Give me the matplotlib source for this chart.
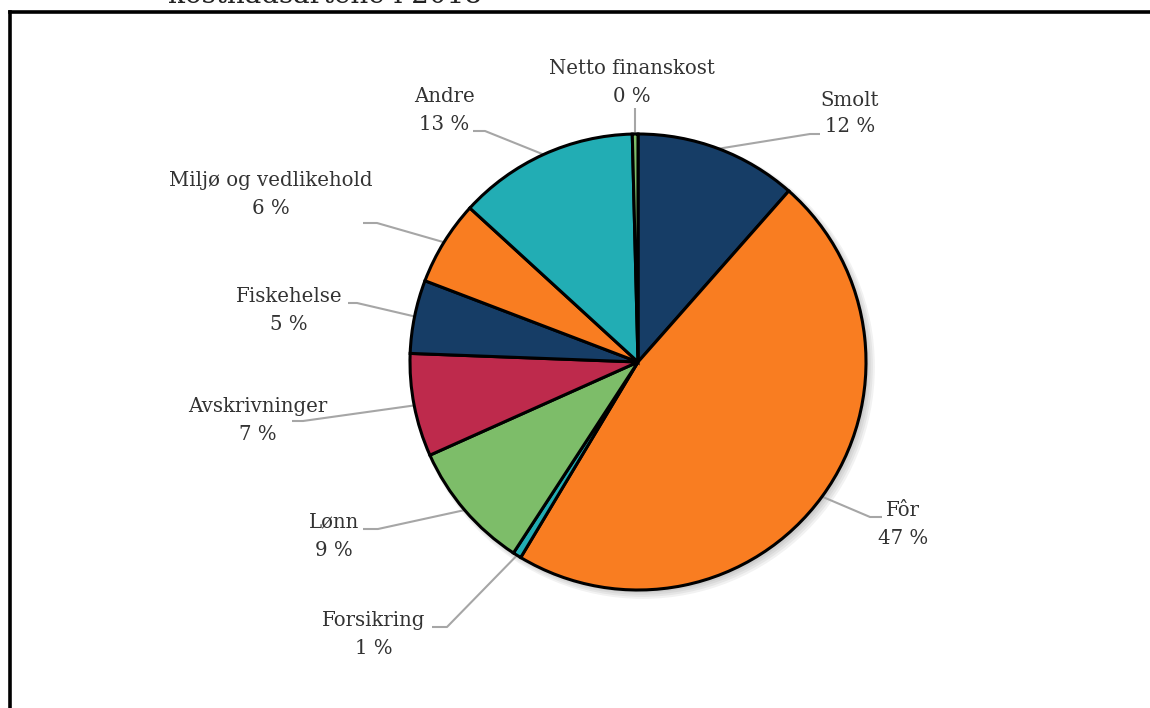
import numpy as np
import matplotlib
matplotlib.use("Agg")
import matplotlib.pyplot as plt
from matplotlib.lines import Line2D
from matplotlib.patches import Circle

# ---- data ----
categories = ["Smolt", "Fôr", "Forsikring", "Lønn", "Avskrivninger",
              "Fiskehelse", "Miljø og vedlikehold", "Andre", "Netto finanskost"]
shares = [11.5, 47.1, 0.6, 9.1, 7.3, 5.2, 6.0, 12.8, 0.4]
colors = ["#163D66", "#F97D21", "#22ADB4", "#7DBD69", "#BE2A4C",
          "#163D66", "#F97D21", "#22ADB4", "#7DBD69"]
title_text = "kostnadsartene i 2018"

# ---- layout (pixels in the 1150x708 canvas) ----
W, H = 1150, 708
CX, CY, R = 638, 362, 228

def to_u(px, py):
    return (px - CX) / R, (CY - py) / R

# label centre x, first line y, second line y, elbow (x, y), end x
label_layout = {
    "Smolt":                (850, 100, 127, (810, 134), 820),
    "Fôr":                  (903, 511, 538, (870, 517), 882),
    "Forsikring":           (374, 620, 648, (447, 627), 432),
    "Lønn":                 (334, 522, 550, (378, 529), 363),
    "Avskrivninger":        (258, 406, 434, (303, 421), 292),
    "Fiskehelse":           (289, 296, 324, (357, 303), 348),
    "Miljø og vedlikehold": (271, 180, 208, (377, 223), 363),
    "Andre":                (444,  96, 124, (485, 131), 473),
    "Netto finanskost":     (632,  68,  96, None, None),
}

fig = plt.figure(figsize=(W / 100, H / 100), dpi=100)
ax = fig.add_axes([0, 0, 1, 1])

# soft shadow
for i, a in enumerate([0.05, 0.05, 0.05, 0.05]):
    ax.add_patch(Circle((0.012 + 0.003 * i, -0.012 - 0.003 * i), 1.0 + 0.006 * i,
                        facecolor="black", alpha=a, edgecolor="none", zorder=0))

wedges, _ = ax.pie(shares, colors=colors, startangle=90, counterclock=False,
                   radius=1.0, center=(0, 0),
                   wedgeprops=dict(edgecolor="black", linewidth=2.2),
                   frame=True)
for w in wedges:
    w.set_zorder(2)

ax.set_xlim(-CX / R, (W - CX) / R)
ax.set_ylim(-(H - CY) / R, CY / R)
ax.set_aspect("equal")
ax.axis("off")

text_color = "#333333"
line_color = "#A6A6A6"
font = "DejaVu Serif"
fs = 14.2

for w, cat, v in zip(wedges, categories, shares):
    lx, y1, y2, elbow, endx = label_layout[cat]
    x_u, y1_u = to_u(lx, y1)
    _, y2_u = to_u(lx, y2)
    ax.text(x_u, y1_u, cat, ha="center", va="center", fontsize=fs,
            family=font, color=text_color)
    ax.text(x_u, y2_u, f"{int(v + 0.5)} %", ha="center", va="center",
            fontsize=fs, family=font, color=text_color)
    mid = np.deg2rad((w.theta1 + w.theta2) / 2)
    sx, sy = np.cos(mid), np.sin(mid)
    if elbow is None:
        ex, ey = to_u(CX + sx * R, 108)
        ax.plot([sx, sx], [sy, ey], color=line_color, lw=1.5, zorder=1,
                solid_capstyle="butt")
    else:
        ex, ey = to_u(*elbow)
        fx, _ = to_u(endx, elbow[1])
        ax.plot([sx, ex, fx], [sy, ey, ey], color=line_color, lw=1.5,
                zorder=1, solid_capstyle="butt")

# title, clipped at the very top as in the reference
fig.text(325 / W, 1 - 3 / H, title_text, ha="center", va="baseline",
         fontsize=20, family=font, color="#222222")

# outer frame
fig.add_artist(Line2D([9.5 / W, 1.0], [1 - 11.5 / H, 1 - 11.5 / H],
                      color="black", lw=2.6, transform=fig.transFigure))
fig.add_artist(Line2D([9.5 / W, 9.5 / W], [1 - 11.5 / H, 0.0],
                      color="black", lw=2.6, transform=fig.transFigure))

fig.savefig("out.png", dpi=100)
